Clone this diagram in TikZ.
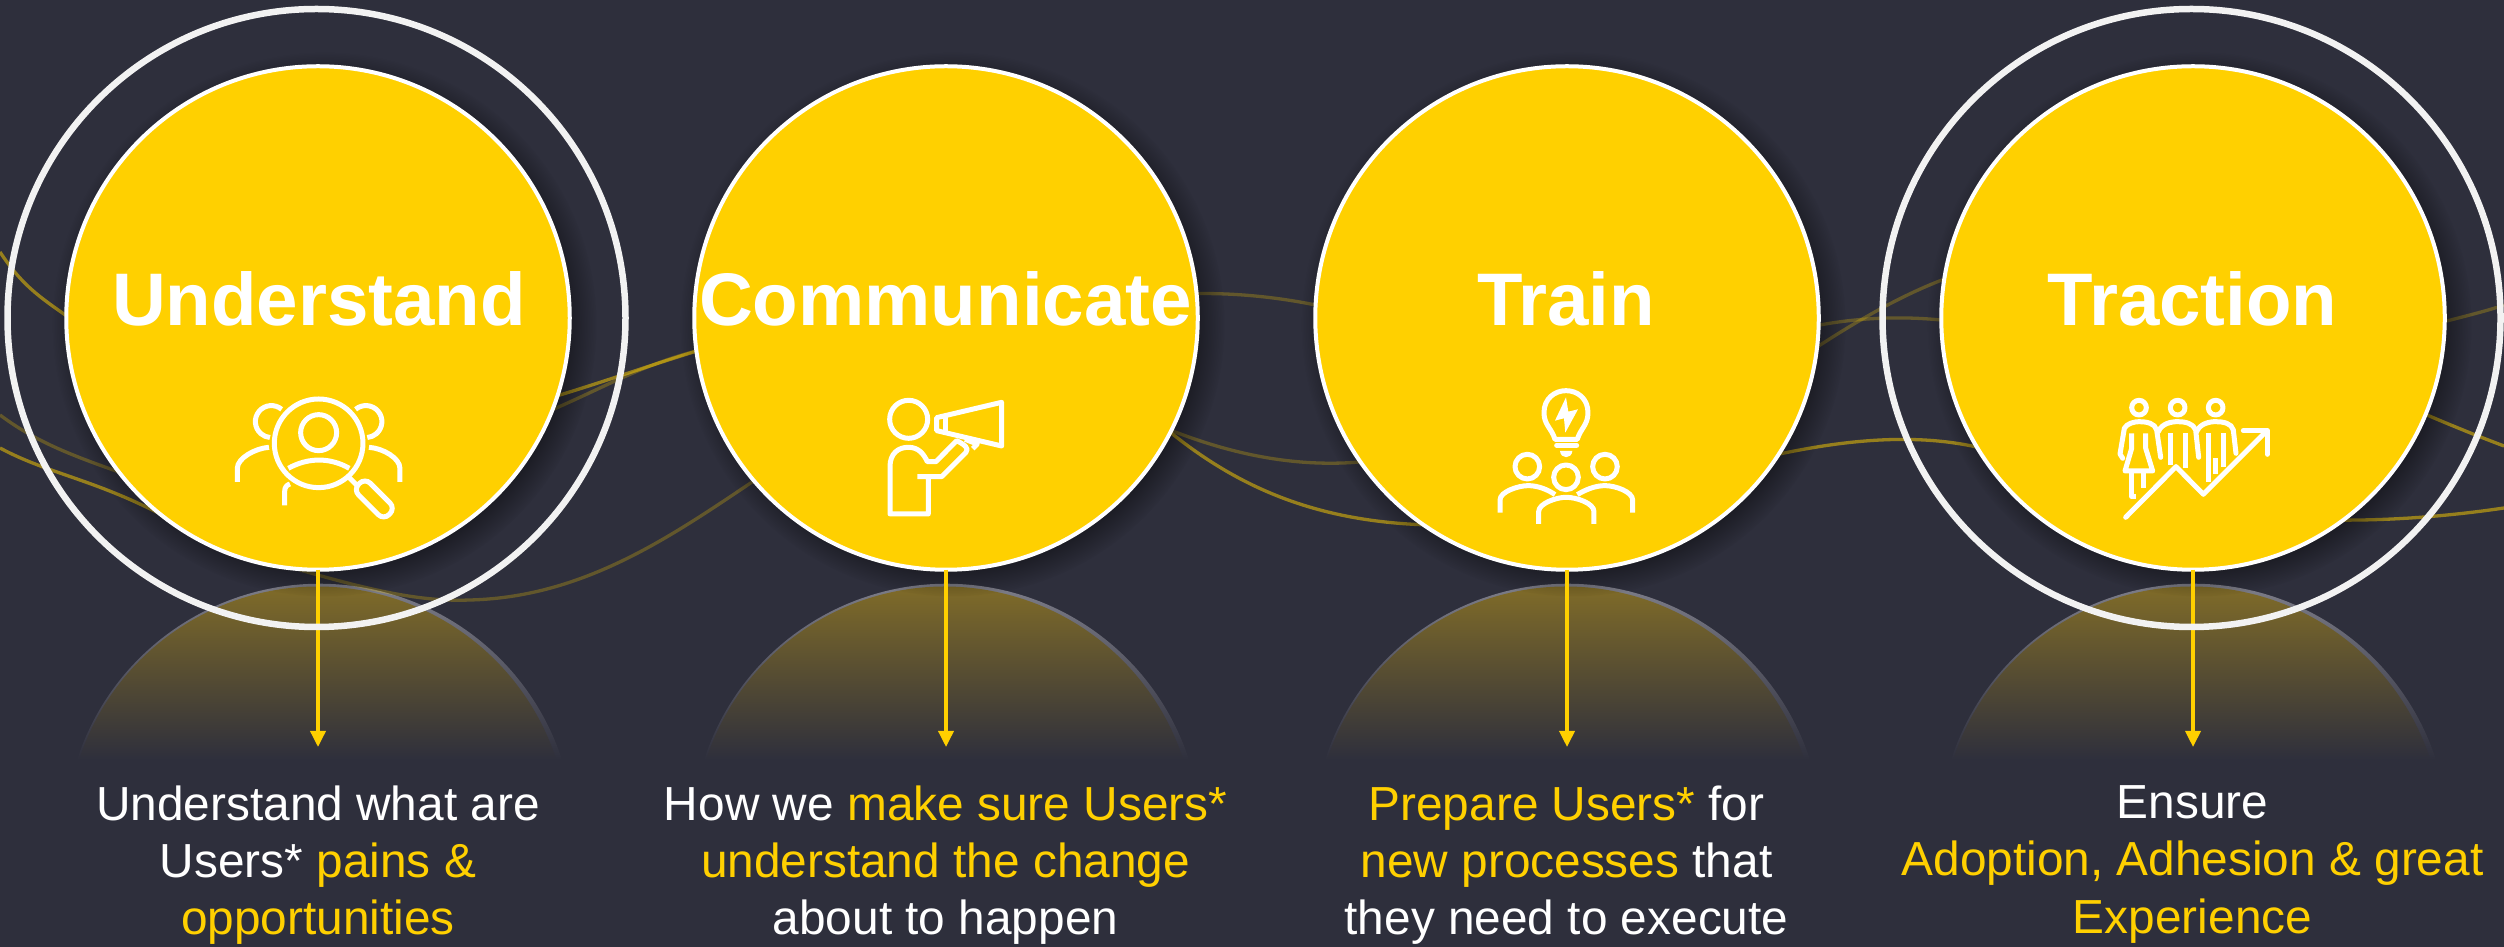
\documentclass[tikz,border=0pt]{standalone}
\usepackage{fontspec}
\setmainfont{Liberation Sans}
\usetikzlibrary{arrows.meta,shadows}
\definecolor{slatebg}{RGB}{46,47,60}
\definecolor{sungold}{RGB}{255,208,0}
\definecolor{domegold}{RGB}{142,118,37}
\definecolor{domeedge}{RGB}{139,139,150}
\definecolor{ringgray}{RGB}{242,242,242}
\newcommand{\goldtext}[1]{\textcolor{sungold}{#1}}
\begin{document}
\begin{tikzpicture}[
		x=.1mm, y=-.1mm,
		bigdisc/.style={
				circle,
				fill=sungold,
				draw=white,
				line width=.4mm,
				inner sep=0pt,
				outer sep=0pt,
				minimum size=50.35mm,
				circular drop shadow={fill=black, shadow xshift=.6mm, shadow yshift=-.6mm, shadow scale=1.08, opacity=.55},
			},
		haloring/.style={
				circle,
				draw=ringgray,
				line width=.65mm,
				inner sep=0pt,
				outer sep=0pt,
				minimum size=61.8mm,
			},
		headline/.style={
				anchor=base,
				text=white,
				font=\fontsize{21.2}{25}\selectfont\bfseries,
			},
		caption/.style={
				anchor=north,
				align=center,
				text=white,
				inner sep=0pt,
				font=\fontsize{13.6}{16.3}\selectfont,
			},
		wavebright/.style={draw=sungold, opacity=.5, line width=.33mm},
		wavedim/.style={draw=sungold, opacity=.25, line width=.33mm},
		dropline/.style={draw=sungold, line width=.35mm, -{Triangle[length=1.6mm,width=1.5mm]}},
		iconline/.style={draw=white, line width=.5mm, line join=round},
		iconunit/.style={x=.03333mm, y=-.03333mm},
	]

	\path[use as bounding box, fill=slatebg] (0,0) rectangle (2504,947);

	\shade[top color=domeedge, bottom color=slatebg] (77,760) arc[start angle=198, end angle=342, radius=255] -- cycle;
	\shade[top color=domegold, bottom color=slatebg] (79,760) arc[start angle=198, end angle=342, radius=251] -- cycle;
	\shade[top color=domeedge, bottom color=slatebg] (704,760) arc[start angle=198, end angle=342, radius=255] -- cycle;
	\shade[top color=domegold, bottom color=slatebg] (706,760) arc[start angle=198, end angle=342, radius=251] -- cycle;
	\shade[top color=domeedge, bottom color=slatebg] (1325,760) arc[start angle=198, end angle=342, radius=255] -- cycle;
	\shade[top color=domegold, bottom color=slatebg] (1327,760) arc[start angle=198, end angle=342, radius=251] -- cycle;
	\shade[top color=domeedge, bottom color=slatebg] (1951,760) arc[start angle=198, end angle=342, radius=255] -- cycle;
	\shade[top color=domegold, bottom color=slatebg] (1953,760) arc[start angle=198, end angle=342, radius=251] -- cycle;

	\draw[wavebright] (0,252) .. controls (25,290) and (45,300) .. (75,322);
	\draw[wavedim] (0,415) .. controls (40,445) and (80,458) .. (130,476);
	\draw[wavebright] (0,448) .. controls (50,475) and (100,480) .. (175,522);
	\draw[wavebright] (550,398) .. controls (610,380) and (650,365) .. (710,347);
	\draw[wavedim] (540,415) .. controls (600,390) and (640,365) .. (700,350);
	\draw[wavedim] (300,570) .. controls (370,590) and (420,602) .. (470,600) .. controls (590,597) and (680,530) .. (770,470);
	\draw[wavedim] (1185,294) .. controls (1230,292) and (1280,297) .. (1325,307);
	\draw[wavedim] (1165,428) .. controls (1220,450) and (1290,470) .. (1370,461);
	\draw[wavebright] (1165,428) .. controls (1240,490) and (1320,522) .. (1430,525);
	\draw[wavedim] (1805,328) .. controls (1850,318) and (1900,315) .. (1950,321);
	\draw[wavedim] (1805,355) .. controls (1850,325) and (1900,295) .. (1950,277);
	\draw[wavebright] (1770,456) .. controls (1830,443) and (1910,430) .. (1985,449);
	\draw[wavedim] (2435,324) .. controls (2470,315) and (2490,310) .. (2504,305);
	\draw[wavebright] (2420,412) .. controls (2450,425) and (2480,437) .. (2504,446);
	\draw[wavebright] (2330,520) .. controls (2390,521) and (2450,516) .. (2504,508);

	\node[bigdisc] (understand) at (318,318) {};
	\node[bigdisc] (communicate) at (946,318) {};
	\node[bigdisc] (train) at (1567,318) {};
	\node[bigdisc] (traction) at (2193,318) {};

	\coordinate (understandEnd) at (318,747);
	\coordinate (communicateEnd) at (946,747);
	\coordinate (trainEnd) at (1567,747);
	\coordinate (tractionEnd) at (2193,747);
	\draw[dropline] (understand.south) -- (understandEnd);
	\draw[dropline] (communicate.south) -- (communicateEnd);
	\draw[dropline] (train.south) -- (trainEnd);
	\draw[dropline] (traction.south) -- (tractionEnd);

	\node[haloring] (understandRing) at (316.5,318) {};
	\node[haloring] (tractionRing) at (2191.5,318) {};

	\node[headline] (understandTitle) at (319,325.5) {Understand};
	\node[headline] (communicateTitle) at (945.5,325.5) {Communicate};
	\node[headline] (trainTitle) at (1566,325.5) {Train};
	\node[headline] (tractionTitle) at (2192.5,325.5) {Traction};

	\node[caption] (understandText) at (318,785) {Understand what are\\Users* \goldtext{pains \&}\\\goldtext{opportunities}};
	\node[caption] (communicateText) at (945.5,785) {How we \goldtext{make sure Users*}\\\goldtext{understand the change}\\about to happen};
	\node[caption] (trainText) at (1566.5,785) {\goldtext{Prepare Users*} for\\\goldtext{new processes} that\\they need to execute};
	\node[caption] (tractionText) at (2192.5,785) {Ensure\\\goldtext{Adoption, Adhesion \& great}\\\goldtext{Experience}};

	\begin{scope}[shift={(200,370)}, iconunit]
		\draw[iconline] (356,220) circle[radius=133];
		\draw[iconline] (356,188) circle[radius=54];
		\draw[iconline] (265,295) .. controls (325,262) and (390,262) .. (448,295);
		\draw[iconline] (245,118) arc[start angle=-50, end angle=-265, radius=48];
		\draw[iconline] (467,118) arc[start angle=230, end angle=445, radius=48];
		\draw[iconline] (112,336) -- (112,295) .. controls (112,265) and (165,235) .. (207,232);
		\draw[iconline] (600,336) -- (600,295) .. controls (600,265) and (550,235) .. (507,232);
		\draw[iconline] (254,406) -- (254,365) .. controls (254,352) and (260,345) .. (270,342);
		\draw[iconline] (447,322) -- (472,347);
		\node[draw=white, line width=.5mm, rectangle, rounded corners=.75mm, inner sep=0pt, minimum width=4.3mm, minimum height=1.65mm, rotate=-45] (lensGrip) at (523,387) {};
	\end{scope}

	\begin{scope}[shift={(840,370)}, iconunit]
		\draw[iconline] (206,148) circle[radius=57];
		\draw[iconline] (232,320) -- (305,320) -- (378,247) .. controls (388,235) and (375,225) .. (350,212) -- (288,275) -- (262,275) .. controls (250,250) and (235,232) .. (205,232) .. controls (175,232) and (150,250) .. (150,290) -- (150,432) -- (265,432) -- (265,325);
		\draw[iconline] (290,143) -- (485,97) -- (485,228) -- (290,182) -- cycle;
		\draw[iconline] (318,137) -- (318,190);
		\draw[iconline] (375,208) -- (412,222) -- (398,236);
	\end{scope}

	\begin{scope}[shift={(1460,370)}, iconunit]
		\draw[iconline] (285,208) .. controls (275,175) and (252,165) .. (252,128) .. controls (252,85) and (285,62) .. (318,62) .. controls (352,62) and (384,85) .. (384,128) .. controls (384,165) and (362,175) .. (352,208) -- cycle;
		\fill[white] (318,82) -- (285,152) -- (312,145) -- (316,188) -- (354,118) -- (325,125) -- cycle;
		\draw[iconline, line cap=round] (290,226) -- (350,226);
		\fill[white] (300,243) -- (337,243) .. controls (335,268) and (302,268) .. (300,243) -- cycle;
		\draw[iconline] (202,290) circle[radius=37];
		\draw[iconline] (435,290) circle[radius=37];
		\draw[iconline] (318,322) circle[radius=37];
		\draw[iconline] (120,428) -- (120,390) .. controls (120,365) and (175,347) .. (205,347) .. controls (235,347) and (265,360) .. (285,374);
		\draw[iconline] (518,428) -- (518,390) .. controls (518,365) and (465,347) .. (435,347) .. controls (405,347) and (375,360) .. (352,374);
		\draw[iconline] (236,462) -- (236,425) .. controls (236,400) and (290,382) .. (318,382) .. controls (350,382) and (402,400) .. (402,425) -- (402,462);
	\end{scope}

	\begin{scope}[shift={(2080,370)}, iconunit]
		\draw[iconline] (177,113) circle[radius=22];
		\draw[iconline] (293,113) circle[radius=22];
		\draw[iconline] (407,113) circle[radius=22];
		\draw[iconline, line cap=round] (137,442) -- (288,290) -- (370,373) -- (560,183);
		\draw[iconline, line cap=round] (490,182) -- (562,182) -- (562,253);
		\draw[iconline, line cap=round] (128,265) -- (120,252) -- (133,175) .. controls (140,160) and (165,155) .. (177,155) .. controls (200,155) and (225,160) .. (230,180) -- (242,262);
		\draw[iconline, line cap=round] (235,185) .. controls (245,160) and (275,155) .. (293,155) .. controls (315,155) and (340,160) .. (347,180) -- (356,262);
		\draw[iconline, line cap=round] (350,185) .. controls (360,160) and (390,155) .. (407,155) .. controls (430,155) and (455,160) .. (460,180) -- (468,250);
		\draw[iconline] (155,190) -- (155,235) -- (135,303) -- (218,303) -- (197,235) -- (197,190);
		\draw[iconline] (155,305) -- (155,380) -- (168,380);
		\draw[iconline] (190,305) -- (190,355);
		\draw[iconline] (270,190) -- (270,285);
		\draw[iconline] (315,190) -- (315,295);
		\draw[iconline] (385,190) -- (385,335);
		\draw[iconline] (430,190) -- (430,290);
		\draw[iconline] (407,265) -- (407,312);
	\end{scope}
\end{tikzpicture}
\end{document}
